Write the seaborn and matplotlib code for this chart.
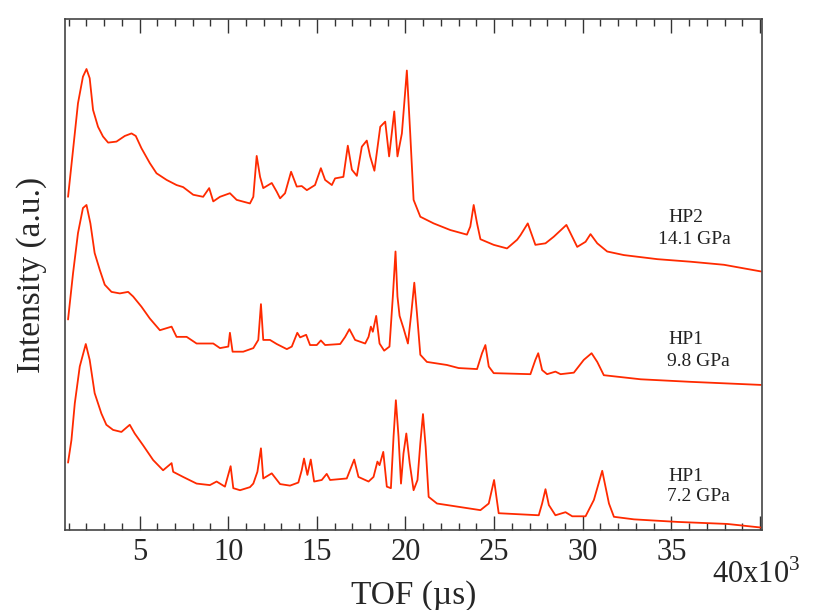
import matplotlib
matplotlib.use("Agg")
import matplotlib.pyplot as plt
from matplotlib.ticker import MultipleLocator
import pandas as pd
import seaborn as sns

# TOF (x10^3 us) and intensity (a.u.), offsets included
tof_hp2 = [0.97, 1.35, 1.53, 1.81, 2.01, 2.19, 2.38, 2.66, 2.94, 3.23, 3.70, 4.17, 4.55, 4.79,
           5.11, 5.58, 5.96, 6.53, 7.09, 7.46, 8.03, 8.59, 8.93, 9.16, 9.54, 10.10, 10.48,
           11.23, 11.42, 11.61, 11.80, 11.98, 12.46, 12.74, 12.93, 13.21, 13.55, 13.87, 14.15,
           14.44, 14.90, 15.23, 15.47, 15.85, 16.03, 16.50, 16.75, 16.98, 17.26, 17.54, 17.82,
           18.01, 18.25, 18.58, 18.86, 19.08, 19.37, 19.55, 19.80, 20.08, 20.27, 20.46, 20.84,
           21.59, 22.53, 23.47, 23.66, 23.85, 24.04, 24.23, 24.98, 25.73, 26.30, 26.49, 26.90,
           27.33, 27.90, 28.37, 29.08, 29.69, 30.16, 30.44, 30.82, 31.38, 32.32, 34.21, 36.09,
           37.97, 40.05]
int_hp2 = [65.2, 77.6, 83.5, 88.7, 90.2, 88.4, 82.2, 78.9, 77.0, 75.8, 76.0, 77.1, 77.6, 77.1,
           74.7, 71.8, 69.8, 68.5, 67.5, 67.1, 65.6, 65.2, 66.9, 64.3, 65.2, 65.9, 64.6,
           63.9, 65.2, 73.2, 69.1, 66.9, 67.9, 66.2, 64.9, 65.9, 70.1, 67.2, 67.3,
           66.5, 67.5, 70.8, 68.5, 67.5, 68.8, 69.1, 75.2, 70.5, 69.3, 75.0, 76.2,
           73.1, 70.3, 78.9, 79.9, 73.1, 81.9, 73.1, 77.6, 89.9, 77.6, 64.6, 61.3,
           60.0, 58.7, 57.8, 59.4, 63.6, 60.0, 56.9, 55.8, 55.1, 56.8, 57.7, 60.0,
           55.8, 56.1, 57.4, 59.7, 55.4, 56.4, 57.9, 56.1, 54.5, 53.8, 53.0, 52.5,
           51.9, 50.6]

tof_hp1_98 = [0.97, 1.25, 1.53, 1.81, 2.01, 2.23, 2.47, 2.76, 3.04, 3.42, 3.89, 4.36, 4.64,
              5.11, 5.58, 6.15, 6.81, 7.09, 7.66, 8.22, 9.16, 9.54, 10.01, 10.10, 10.25,
              10.85, 11.42, 11.70, 11.85, 11.98, 12.36, 12.74, 13.31, 13.59, 13.90, 14.06,
              14.40, 14.62, 15.00, 15.23, 15.47, 16.32, 16.60, 16.84, 17.16, 17.73, 17.92,
              18.05, 18.16, 18.35, 18.54, 18.80, 19.10, 19.29, 19.44, 19.55, 19.67, 19.89,
              20.14, 20.33, 20.50, 20.65, 20.84, 21.21, 22.34, 23.00, 24.04, 24.32, 24.51,
              24.70, 24.98, 27.05, 27.33, 27.49, 27.71, 27.99, 28.46, 28.75, 29.50, 30.06,
              30.50, 30.82, 31.19, 33.27, 36.09, 40.05]
int_hp1_98 = [41.2, 50.2, 58.1, 63.0, 63.6, 60.0, 54.2, 50.9, 48.0, 46.6, 46.3, 46.6, 45.7,
              43.7, 41.4, 39.1, 39.8, 37.8, 37.8, 36.5, 36.5, 35.6, 35.9, 38.6, 34.9,
              34.9, 35.6, 37.2, 44.2, 37.2, 37.2, 36.4, 35.4, 35.9, 38.6, 37.7,
              38.2, 36.2, 36.2, 37.1, 36.2, 36.4, 37.8, 39.3, 37.2, 36.5, 37.8,
              39.8, 38.8, 41.9, 36.5, 35.1, 35.9, 45.7, 54.5, 45.7, 41.9, 39.5,
              36.5, 42.4, 48.4, 42.4, 34.3, 32.9, 32.3, 31.7, 31.5, 34.6, 36.2,
              32.0, 30.7, 30.5, 33.3, 34.6, 31.3, 30.5, 31.0, 30.5, 30.8, 33.3,
              34.6, 32.9, 30.3, 29.5, 29.0, 28.4]

tof_hp1_72 = [0.97, 1.16, 1.35, 1.63, 1.97, 2.19, 2.47, 2.85, 3.13, 3.51, 3.98, 4.45, 4.73,
              5.20, 5.77, 6.33, 6.81, 6.90, 7.46, 8.22, 8.97, 9.35, 9.82, 10.14, 10.29, 10.67,
              11.23, 11.42, 11.65, 11.85, 11.98, 12.46, 12.93, 13.49, 13.96, 14.15, 14.28,
              14.47, 14.66, 14.85, 15.28, 15.56, 15.75, 16.69, 17.11, 17.35, 17.92, 18.20,
              18.42, 18.54, 18.75, 18.95, 19.18, 19.33, 19.46, 19.61, 19.75, 19.89, 20.05,
              20.24, 20.46, 20.68, 20.84, 20.99, 21.14, 21.31, 21.78, 22.91, 24.23, 24.70,
              25.00, 25.26, 27.52, 27.71, 27.90, 28.09, 28.46, 29.03, 29.41, 30.16, 30.63,
              31.10, 31.48, 31.76, 32.89, 35.34, 38.16, 40.05]
int_hp1_72 = [13.2, 17.6, 24.8, 32.0, 36.4, 33.3, 26.8, 22.8, 20.6, 19.6, 19.2, 20.6, 18.9,
              16.6, 13.7, 11.7, 13.1, 11.4, 10.4, 9.1, 8.8, 9.5, 8.5, 12.5, 8.2, 7.8,
              8.4, 9.1, 11.4, 16.0, 10.1, 11.1, 9.0, 8.7, 9.3, 11.7, 14.0,
              10.8, 13.8, 9.5, 9.8, 11.0, 9.8, 10.1, 13.8, 10.4, 9.5, 10.4,
              13.4, 12.7, 15.3, 8.5, 8.2, 18.3, 25.4, 18.3, 9.1, 15.0, 18.9,
              13.1, 7.8, 9.8, 17.0, 22.7, 16.3, 6.5, 5.2, 4.6, 3.9, 5.2,
              9.8, 3.3, 2.9, 5.2, 8.0, 4.9, 2.9, 3.5, 2.7, 2.7, 5.9,
              11.6, 5.2, 2.6, 2.1, 1.6, 1.2, 0.5]

# labels at the right of each pattern
label_x = [34.85, 34.25, 34.85, 34.75, 34.85, 34.75]
label_y = [61.2, 56.8, 37.2, 32.9, 10.4, 6.5]
label_txt = ["HP2", "14.1 GPa", "HP1", "9.8 GPa", "HP1", "7.2 GPa"]

tick_vals = [5, 10, 15, 20, 25, 30, 35, 40]
tick_txt = ["5", "10", "15", "20", "25", "30", "35", ""]

red = "#ff2a00"


def main():
    sns.set_style("ticks")
    plt.rcParams["font.family"] = ["Liberation Serif", "DejaVu Serif"]
    plt.rcParams["mathtext.fontset"] = "custom"
    plt.rcParams["mathtext.rm"] = "Liberation Serif"

    fig = plt.figure(figsize=(8.13, 6.10), dpi=100)
    ax = fig.add_axes([0.080, 0.131, 0.857, 0.838])

    curves = [(tof_hp2, int_hp2), (tof_hp1_98, int_hp1_98), (tof_hp1_72, int_hp1_72)]
    for tof, inten in curves:
        df = pd.DataFrame({"tof": tof, "intensity": inten})
        sns.lineplot(data=df, x="tof", y="intensity", ax=ax, color=red,
                     linewidth=1.3, sort=False, estimator=None)

    for x, y, t in zip(label_x, label_y, label_txt):
        ax.text(x, y, t, fontsize=14, ha="left", va="center", color="#222222")

    ax.set_xlim(0.8, 40.1)
    ax.set_ylim(0, 100)
    ax.set_yticks([])
    ax.set_xticks(tick_vals)
    ax.set_xticklabels(tick_txt)
    ax.xaxis.set_minor_locator(MultipleLocator(1))
    ax.tick_params(axis="x", which="both", direction="in", top=True, bottom=True,
                   labelsize=22, pad=6, color="#333333", width=1.0)
    ax.tick_params(axis="x", which="major", length=10)
    ax.tick_params(axis="x", which="minor", length=5)
    for s in ax.spines.values():
        s.set_color("#444444")
        s.set_linewidth(1.2)

    ax.annotate("40x10$^{3}$", xy=(40, 0), xycoords=("data", "axes fraction"),
                xytext=(-3, -21), textcoords="offset points", ha="center", va="top",
                fontsize=22)

    ax.set_xlabel("TOF (\u00b5s)", fontsize=24, labelpad=9)
    ax.set_ylabel("Intensity (a.u.)", fontsize=24, labelpad=13)

    fig.savefig("out.png", dpi=100)


if __name__ == "__main__":
    main()
